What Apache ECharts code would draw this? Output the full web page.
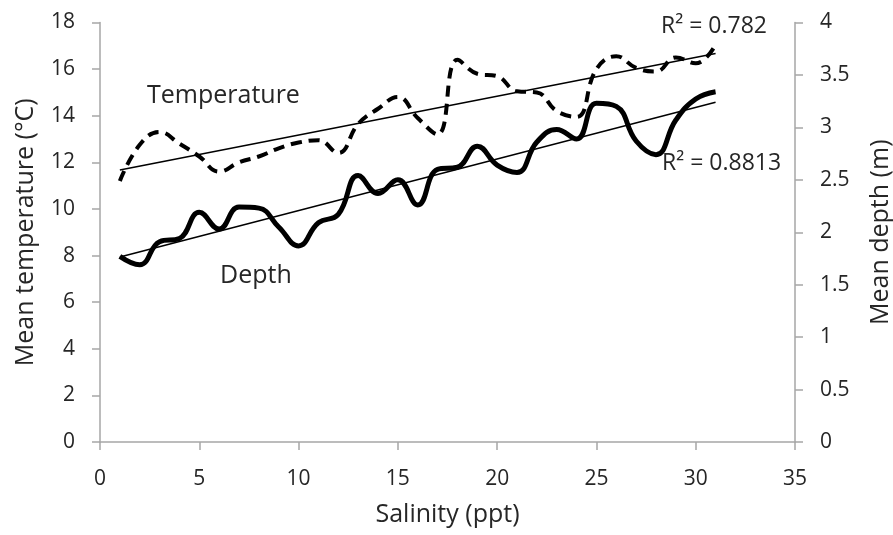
<!DOCTYPE html>
<html>
<head>
<meta charset="utf-8">
<script src="https://cdn.jsdelivr.net/npm/echarts@6/dist/echarts.min.js"></script>
<style>html,body{margin:0;padding:0;background:#fff;}#c{width:893px;height:535px;}</style>
</head>
<body>
<div id="c"></div>
<script>
// Salinity (ppt)
var salinity = [1,2,3,4,5,6,7,8,9,10,11,12,13,14,15,16,17,18,19,20,21,22,23,24,25,26,27,28,29,30,31];
// Mean temperature (°C)
var temperature = [11.2,12.75,13.3,12.8,12.25,11.6,12.0,12.25,12.6,12.85,12.95,12.4,13.65,14.3,14.8,13.9,13.2,16.4,15.8,15.7,15.05,15.0,14.2,13.95,16.0,16.55,16.05,15.9,16.5,16.25,17.05];
// Mean depth (m)
var depth = [1.77,1.69,1.91,1.94,2.19,2.03,2.24,2.23,2.05,1.87,2.09,2.17,2.54,2.37,2.5,2.26,2.6,2.62,2.82,2.64,2.57,2.86,2.98,2.89,3.23,3.2,2.87,2.74,3.07,3.27,3.34];
var xTicks = {min:0, max:35, interval:5};
var leftTicks = {min:0, max:18, interval:2};
var rightTicks = {min:0, max:4, interval:0.5};
var labels = {temp:'Temperature', depth:'Depth', r2temp:'R² = 0.782', r2depth:'R² = 0.8813'};

function linfit(xs, ys){
  var n=xs.length,sx=0,sy=0,sxx=0,sxy=0;
  for(var i=0;i<n;i++){sx+=xs[i];sy+=ys[i];sxx+=xs[i]*xs[i];sxy+=xs[i]*ys[i];}
  var b=(n*sxy-sx*sy)/(n*sxx-sx*sx); var a=(sy-b*sx)/n;
  var x0=xs[0], x1=xs[n-1];
  return [[x0,a+b*x0],[x1,a+b*x1]];
}
function pairs(xs, ys){return xs.map(function(x,i){return [x,ys[i]];});}

var font = '"Open Sans", "Noto Sans", sans-serif';
var axisColor = '#a6a6a6';
var txt = '#262626';
var tickFont = 21, titleFont = 25;
var chart = echarts.init(document.getElementById('c'), null, {renderer:'canvas'});
chart.setOption({
  animation:false,
  backgroundColor:'#fff',
  grid:{left:100, right:98, top:22.5, bottom:93, containLabel:false, outerBoundsMode:'none'},
  xAxis:{type:'value', min:xTicks.min, max:xTicks.max, interval:xTicks.interval,
    name:'Salinity (ppt)', nameLocation:'middle', nameGap:60,
    nameTextStyle:{fontFamily:font, fontSize:titleFont, color:txt},
    axisLine:{show:true, lineStyle:{color:axisColor, width:1.5}},
    axisTick:{show:true, length:8, lineStyle:{color:axisColor, width:1.5}},
    axisLabel:{fontFamily:font, fontSize:tickFont, color:txt, margin:27},
    splitLine:{show:false}},
  yAxis:[
    {type:'value', position:'left', min:leftTicks.min, max:leftTicks.max, interval:leftTicks.interval,
     name:'Mean temperature (°C)', nameLocation:'middle', nameGap:62,
     nameTextStyle:{fontFamily:font, fontSize:titleFont, color:txt},
     axisLine:{show:true, lineStyle:{color:axisColor, width:1.5}},
     axisTick:{show:true, length:8, lineStyle:{color:axisColor, width:1.5}},
     axisLabel:{fontFamily:font, fontSize:tickFont, color:txt, margin:25},
     splitLine:{show:false}},
    {type:'value', position:'right', min:rightTicks.min, max:rightTicks.max, interval:rightTicks.interval,
     name:'Mean depth (m)', nameLocation:'middle', nameGap:73, nameRotate:90,
     nameTextStyle:{fontFamily:font, fontSize:titleFont, color:txt},
     axisLine:{show:true, lineStyle:{color:axisColor, width:1.5}},
     axisTick:{show:true, length:8, lineStyle:{color:axisColor, width:1.5}},
     axisLabel:{fontFamily:font, fontSize:tickFont, color:txt, margin:25},
     splitLine:{show:false}}
  ],
  series:[
    {type:'line', name:'Temperature', yAxisIndex:0, data:pairs(salinity, temperature), smooth:0.45,
     showSymbol:false, lineStyle:{color:'#000', width:4, type:[11,7], cap:'butt'}},
    {type:'line', name:'Temperature trend', yAxisIndex:0, data:linfit(salinity, temperature),
     showSymbol:false, lineStyle:{color:'#000', width:1.5}},
    {type:'line', name:'Depth', yAxisIndex:1, data:pairs(salinity, depth), smooth:0.45,
     showSymbol:false, lineStyle:{color:'#000', width:5}},
    {type:'line', name:'Depth trend', yAxisIndex:1, data:linfit(salinity, depth),
     showSymbol:false, lineStyle:{color:'#000', width:1.5}}
  ],
  graphic:[
    {type:'text', left:147, top:83, style:{text:labels.temp, font:'25px '+font, fill:txt}},
    {type:'text', left:220, top:263, style:{text:labels.depth, font:'25px '+font, fill:txt}},
    {type:'text', left:661, top:15, style:{text:labels.r2temp, font:'23px '+font, fill:txt}},
    {type:'text', left:662, top:152, style:{text:labels.r2depth, font:'23px '+font, fill:txt}}
  ]
});
</script>
</body>
</html>
